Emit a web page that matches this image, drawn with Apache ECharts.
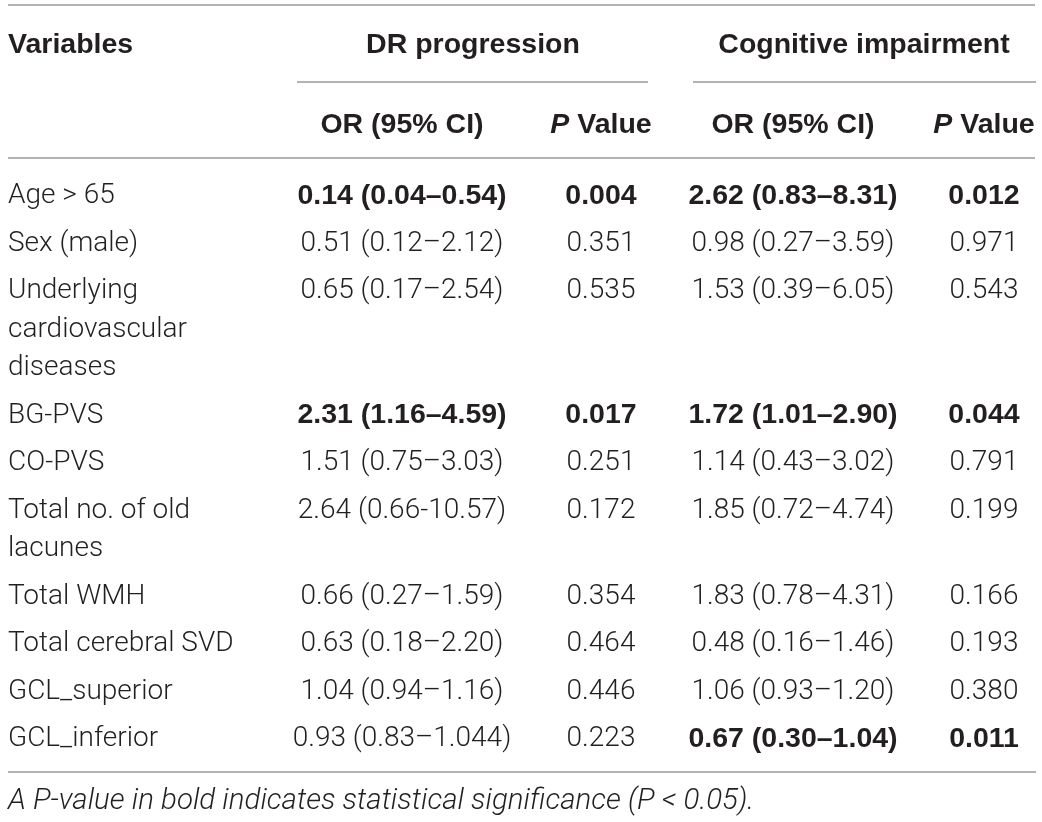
<!DOCTYPE html>
<html>
<head>
<meta charset="utf-8">
<script src="https://cdn.jsdelivr.net/npm/echarts@6/dist/echarts.min.js"></script>
<style>
html, body { margin: 0; padding: 0; background: #fff; }
#chart { width: 1042px; height: 822px; }
</style>
</head>
<body>
<div id="chart"></div>
<script>
// table content
var variables = ['Age > 65', 'Sex (male)', 'Underlying\ncardiovascular\ndiseases', 'BG-PVS', 'CO-PVS',
  'Total no. of old\nlacunes', 'Total WMH', 'Total cerebral SVD', 'GCL_superior', 'GCL_inferior'];
var drOR = ['0.14 (0.04–0.54)', '0.51 (0.12–2.12)', '0.65 (0.17–2.54)', '2.31 (1.16–4.59)', '1.51 (0.75–3.03)',
  '2.64 (0.66-10.57)', '0.66 (0.27–1.59)', '0.63 (0.18–2.20)', '1.04 (0.94–1.16)', '0.93 (0.83–1.044)'];
var drP = ['0.004', '0.351', '0.535', '0.017', '0.251', '0.172', '0.354', '0.464', '0.446', '0.223'];
var ciOR = ['2.62 (0.83–8.31)', '0.98 (0.27–3.59)', '1.53 (0.39–6.05)', '1.72 (1.01–2.90)', '1.14 (0.43–3.02)',
  '1.85 (0.72–4.74)', '1.83 (0.78–4.31)', '0.48 (0.16–1.46)', '1.06 (0.93–1.20)', '0.67 (0.30–1.04)'];
var ciP = ['0.012', '0.971', '0.543', '0.044', '0.791', '0.199', '0.166', '0.193', '0.380', '0.011'];
var groupHeaders = ['DR progression', 'Cognitive impairment'];
var subHeaders = ['OR (95% CI)', '{i|P} Value', 'OR (95% CI)', '{i|P} Value'];
var footnote = 'A P-value in bold indicates statistical significance (P < 0.05).';
var alpha = 0.05;

// layout
var W = 1042, H = 822;
var colX = [8, 402, 601, 793, 984];
var groupX = [473, 864];
var headY = 43, subY = 123, firstY = 194, lineH = 38.5, rowGap = 47.5, footY = 800;
var LIGHT = 'Roboto, sans-serif';
var BOLD = '"Liberation Sans", Arial, sans-serif';
var INK = '#231f20';

var cells = [];
function cell(x, y, text, bold, align, italic) {
  cells.push({ x: x, y: y, text: text, bold: bold, align: align, italic: italic });
}

cell(colX[0], headY, 'Variables', true, 'left');
groupHeaders.forEach(function (g, i) { cell(groupX[i], headY, g, true, 'center'); });
subHeaders.forEach(function (s, i) { cell(colX[i + 1], subY, s, true, 'center'); });

var y = firstY;
variables.forEach(function (v, i) {
  var lines = v.split('\n');
  lines.forEach(function (t, k) { cell(colX[0], y + k * lineH, t, false, 'left'); });
  var drSig = parseFloat(drP[i]) < alpha, ciSig = parseFloat(ciP[i]) < alpha;
  cell(colX[1], y, drOR[i], drSig, 'center');
  cell(colX[2], y, drP[i], drSig, 'center');
  cell(colX[3], y, ciOR[i], ciSig, 'center');
  cell(colX[4], y, ciP[i], ciSig, 'center');
  y += (lines.length - 1) * lineH + rowGap;
});
var lastY = y - rowGap;
cell(colX[0], footY, footnote, false, 'left', true);

// horizontal rules [x1, x2, y]
var rules = [
  [8, 1035, 5],
  [297, 648, 82],
  [693, 1036, 82],
  [8, 1035, 158],
  [8, 1036, lastY + 35]
];

function textStyle(c) {
  var fam = c.bold ? BOLD : LIGHT;
  var weight = c.bold ? 'bold' : 300;
  var size = c.bold ? 28.5 : (c.italic ? 29.5 : 28);
  return {
    text: c.text,
    fill: INK,
    fontFamily: fam,
    fontSize: size,
    fontWeight: weight,
    fontStyle: c.italic ? 'italic' : 'normal',
    align: c.align,
    verticalAlign: 'middle',
    rich: {
      i: { fontFamily: fam, fontSize: size, fontWeight: weight, fontStyle: 'italic', fill: INK }
    }
  };
}

var chart = echarts.init(document.getElementById('chart'));
chart.setOption({
  backgroundColor: '#fff',
  animation: false,
  grid: { left: 0, right: 0, top: 0, bottom: 0 },
  xAxis: { type: 'value', min: 0, max: W, show: false },
  yAxis: { type: 'value', min: 0, max: H, inverse: true, show: false },
  series: [
    {
      type: 'custom',
      silent: true,
      data: rules.map(function (r) { return [r[0], r[2], r[1]]; }),
      renderItem: function (params, api) {
        var a = api.coord([api.value(0), api.value(1)]);
        var b = api.coord([api.value(2), api.value(1)]);
        return {
          type: 'line',
          shape: { x1: a[0], y1: a[1], x2: b[0], y2: b[1] },
          style: { stroke: '#9a9a9a', lineWidth: 1.5 }
        };
      }
    },
    {
      type: 'custom',
      silent: true,
      data: cells.map(function (c) { return [c.x, c.y]; }),
      renderItem: function (params, api) {
        var c = cells[params.dataIndex];
        var p = api.coord([api.value(0), api.value(1)]);
        return {
          type: 'text',
          x: p[0],
          y: p[1] + 2,
          style: textStyle(c)
        };
      }
    }
  ]
});
</script>
</body>
</html>
